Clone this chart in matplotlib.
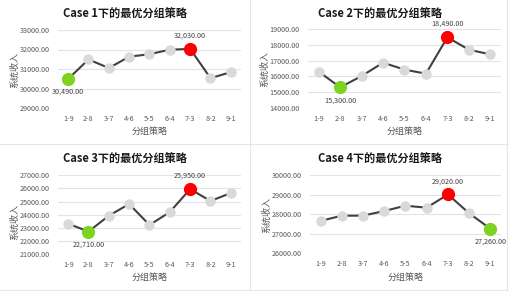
import matplotlib
matplotlib.use("Agg")
import matplotlib.pyplot as plt
from matplotlib.lines import Line2D

plt.rcParams['font.family'] = ['Noto Sans CJK SC', 'DejaVu Sans']

categories = ["1-9", "2-8", "3-7", "4-6", "5-5", "6-4", "7-3", "8-2", "9-1"]
case1 = [30490, 31490, 31050, 31630, 31760, 31990, 32030, 30530, 30840]
case2 = [16300, 15300, 16020, 16870, 16430, 16170, 18490, 17700, 17400]
case3 = [23310, 22710, 23920, 24810, 23210, 24200, 25950, 25040, 25650]
case4 = [27660, 27930, 27930, 28170, 28440, 28340, 29020, 28050, 27260]
titles = ["Case 1下的最优分组策略", "Case 2下的最优分组策略",
          "Case 3下的最优分组策略", "Case 4下的最优分组策略"]
ylims = [(29000, 33000), (14000, 19000), (21000, 27000), (26000, 30000)]
ystep = 1000
xlabel = "分组策略"
ylabel = "系统收入"

W, H = 510, 291
fig = plt.figure(figsize=(W / 100, H / 100), dpi=100)

def px_axes(l, t, r, b):
    return fig.add_axes([l / W, 1 - b / H, (r - l) / W, (b - t) / H])

panels = [
    dict(box=(58, 30, 241, 108), title=(125, 14), ylab=(15, 70)),
    dict(box=(308, 29.3, 501, 107.7), title=(380, 14), ylab=(265, 69)),
    dict(box=(58, 175.3, 241, 254), title=(125, 159), ylab=(15, 222)),
    dict(box=(310, 175.3, 501, 253.3), title=(380, 159), ylab=(267, 215)),
]
data = [case1, case2, case3, case4]

for p, vals, title, yl in zip(panels, data, titles, ylims):
    ax = px_axes(*p["box"])
    x = list(range(len(categories)))
    ax.plot(x, vals, color="#404040", lw=1.5, zorder=2)
    imax = vals.index(max(vals))
    imin = vals.index(min(vals))
    for i, v in enumerate(vals):
        if i == imax:
            c, s = "#ff0000", 8.5
        elif i == imin:
            c, s = "#7ed321", 8.5
        else:
            c, s = "#d9d9d9", 6.5
        ax.plot(i, v, marker="o", ms=s, color=c, mec=c, zorder=3)
    ax.annotate(f"{vals[imax]:,.2f}", (imax, vals[imax]), xytext=(0, 9.5),
                textcoords="offset points", ha="center", va="center",
                fontsize=5.2, color="#404040")
    ax.annotate(f"{vals[imin]:,.2f}", (imin, vals[imin]), xytext=(0, -9.5),
                textcoords="offset points", ha="center", va="center",
                fontsize=5.2, color="#404040")
    ax.set_xlim(-0.5, len(categories) - 0.5)
    ax.set_ylim(*yl)
    ticks = list(range(yl[0], yl[1] + 1, ystep))
    ax.set_yticks(ticks)
    ax.set_yticklabels([f"{t:.2f}" for t in ticks], fontsize=5.2, color="#595959")
    ax.set_xticks(x)
    ax.set_xticklabels(categories, fontsize=5.2, color="#595959")
    ax.tick_params(length=0, pad=6)
    ax.tick_params(axis="x", pad=5)
    ax.grid(axis="y", color="#e3e3e3", lw=0.8)
    ax.set_axisbelow(True)
    for s in ax.spines.values():
        s.set_visible(False)
    ax.set_xlabel(xlabel, fontsize=6.5, color="#595959", labelpad=3)
    fig.text(p["title"][0] / W, 1 - p["title"][1] / H, title, ha="center",
             va="center", fontsize=8, fontweight="bold", color="#1a1a1a")
    fig.text(p["ylab"][0] / W, 1 - p["ylab"][1] / H, ylabel, ha="center",
             va="center", rotation=90, fontsize=6.5, color="#595959")

# faint panel borders
lc = "#e6e6e6"
fig.add_artist(Line2D([250 / W, 250 / W], [0, 1], color=lc, lw=0.8))
fig.add_artist(Line2D([0, 1], [1 - 144 / H, 1 - 144 / H], color=lc, lw=0.8))
fig.add_artist(Line2D([0, 1], [1 - 290 / H, 1 - 290 / H], color=lc, lw=0.8))
fig.add_artist(Line2D([507 / W, 507 / W], [0, 1], color=lc, lw=0.8))

fig.savefig("out.png", dpi=100, facecolor="white")
